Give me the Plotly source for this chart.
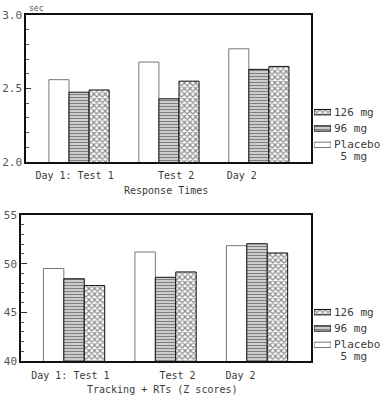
import plotly.graph_objects as go

groups = [0, 1, 2]
group_labels = ["Day 1: Test 1", "Test 2", "Day 2"]
series_names = ["Placebo<br> 5 mg", "96 mg", "126 mg"]

rt_placebo = [2.56, 2.68, 2.77]
rt_96 = [2.475, 2.43, 2.63]
rt_126 = [2.49, 2.55, 2.65]

tr_placebo = [49.5, 51.2, 51.85]
tr_96 = [48.45, 48.6, 52.05]
tr_126 = [47.75, 49.15, 51.1]

FONT = "DejaVu Sans Mono"
TXT = "#3a3a3a"

styles = [
    dict(color="white", line=dict(color="#777", width=1)),
    dict(color="white", line=dict(color="#111", width=1),
         pattern=dict(shape="-", fgcolor="#000", bgcolor="white", size=3, solidity=0.6)),
    dict(color="white", line=dict(color="#111", width=1),
         pattern=dict(shape="x", fgcolor="#111", bgcolor="white", size=4, solidity=0.5)),
]

W, H = 380, 400
def px_x(a, b):
    return [a / W, b / W]
def px_y(top, bottom):
    return [1 - bottom / H, 1 - top / H]

fig = go.Figure()
for i, (vals, name) in enumerate(zip([rt_placebo, rt_96, rt_126], series_names)):
    fig.add_trace(go.Bar(x=groups, y=vals, name=name, marker=styles[i],
                         xaxis="x", yaxis="y", showlegend=False))
for i, (vals, name) in enumerate(zip([tr_placebo, tr_96, tr_126], series_names)):
    fig.add_trace(go.Bar(x=groups, y=vals, name=name, marker=styles[i],
                         xaxis="x2", yaxis="y2", showlegend=False))

# legend keys (manual legends, one per panel)
for xa, ya in [("x3", "y3"), ("x4", "y4")]:
    for i, name in enumerate(series_names):
        fig.add_trace(go.Bar(x=[1], y=[name], orientation="h", width=0.33,
                             marker=styles[i], xaxis=xa, yaxis=ya,
                             showlegend=False, hoverinfo="skip"))

axis_common = dict(showline=True, mirror=True, linecolor="#111", linewidth=1.5,
                   showgrid=False, zeroline=False, automargin=False,
                   tickfont=dict(family=FONT, size=10, color=TXT))
ytickfont = dict(family=FONT, size=11, color="#555")
hidden = dict(visible=False, showgrid=False, zeroline=False, automargin=False,
              fixedrange=True)

leg_rows = list(reversed(series_names))  # top to bottom: 126, 96, Placebo

fig.update_layout(
    width=W, height=H, margin=dict(l=0, r=0, t=0, b=0),
    paper_bgcolor="white", plot_bgcolor="white",
    barmode="group", bargap=0.33, bargroupgap=0,
    font=dict(family=FONT, color=TXT, size=10),
    showlegend=False,
    xaxis=dict(domain=px_x(26, 311), anchor="y", range=[-0.59, 2.58],
               tickvals=[-0.05, 1.08, 1.81], ticktext=group_labels, ticks="",
               ticklabelstandoff=3, **axis_common),
    yaxis=dict(domain=px_y(15, 162), anchor="x", range=[2.0, 3.0],
               tickvals=[2.0, 2.5, 3.0], ticktext=["2.0", "2.5", "3.0"],
               ticks="inside", ticklen=5, tickcolor="#333",
               minor=dict(dtick=0.1, ticks="inside", ticklen=3, tickcolor="#555"),
               **{**axis_common, "tickfont": ytickfont}),
    xaxis2=dict(domain=px_x(21, 311), anchor="y2", range=[-0.58, 2.59],
                tickvals=[-0.04, 1.13, 1.82], ticktext=group_labels, ticks="",
                ticklabelstandoff=4, **axis_common),
    yaxis2=dict(domain=px_y(215, 361), anchor="x2", range=[40, 55],
                tickvals=[40, 45, 50, 55], ticktext=["40", "45", "50", "55"],
                ticks="inside", ticklen=6, tickcolor="#333",
                minor=dict(dtick=1, ticks="inside", ticklen=3, tickcolor="#555"),
                **{**axis_common, "tickfont": ytickfont}),
    xaxis3=dict(domain=px_x(314, 331), anchor="y3", range=[0, 1], **hidden),
    yaxis3=dict(domain=px_y(104, 153), anchor="x3", type="category",
                categoryorder="array", categoryarray=list(series_names),
                range=[-0.5, 2.5], **hidden),
    xaxis4=dict(domain=px_x(314, 331), anchor="y4", range=[0, 1], **hidden),
    yaxis4=dict(domain=px_y(304, 353), anchor="x4", type="category",
                categoryorder="array", categoryarray=list(series_names),
                range=[-0.5, 2.5], **hidden),
    annotations=[
        dict(text="Response Times", x=166 / W, y=1 - 190 / H, xref="paper", yref="paper",
             xanchor="center", yanchor="middle",
             showarrow=False, font=dict(family=FONT, size=10, color=TXT)),
        dict(text="Tracking + RTs (Z scores)", x=162 / W, y=1 - 389 / H, xref="paper",
             yref="paper", xanchor="center", yanchor="middle",
             showarrow=False, font=dict(family=FONT, size=10, color=TXT)),
        dict(text="sec", x=27 / W, y=1 - 8 / H, xref="paper", yref="paper",
             xanchor="left", yanchor="middle",
             showarrow=False, font=dict(family=FONT, size=8, color="#555")),
    ],
)

for xa, ya in [("x3", "y3"), ("x4", "y4")]:
    for name in leg_rows:
        lines = name.split("<br>")
        fig.add_annotation(text=lines[0], x=1, y=name, xref=xa, yref=ya,
                           xanchor="left", yanchor="middle", xshift=1,
                           showarrow=False, font=dict(family=FONT, size=11, color=TXT))
        if len(lines) > 1:
            fig.add_annotation(text=lines[1], x=1, y=name, xref=xa, yref=ya,
                               xanchor="left", yanchor="middle", xshift=1, yshift=-11.5,
                               showarrow=False,
                               font=dict(family=FONT, size=11, color=TXT))

fig.write_html("out.html", config={"displayModeBar": False},
               post_script="document.body.style.margin='0';"
                           "document.body.style.padding='0';")
